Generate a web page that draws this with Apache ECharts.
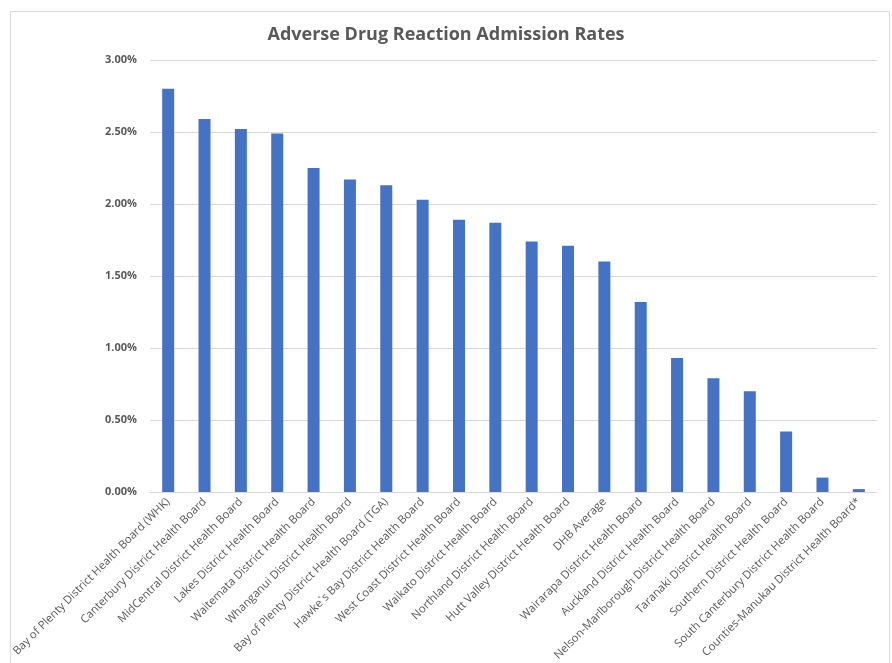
<!DOCTYPE html>
<html><head><meta charset="utf-8">
<script src="https://cdn.jsdelivr.net/npm/echarts@6/dist/echarts.min.js"></script>
<style>html,body{margin:0;padding:0;background:#fff}#c{width:892px;height:663px}</style>
</head><body><div id="c"></div>
<script>
const categories = [
  "Bay of Plenty District Health Board (WHK)",
  "Canterbury District Health Board",
  "MidCentral District Health Board",
  "Lakes District Health Board",
  "Waitemata District Health Board",
  "Whanganui District Health Board",
  "Bay of Plenty District Health Board (TGA)",
  "Hawke`s Bay District Health Board",
  "West Coast District Health Board",
  "Waikato District Health Board",
  "Northland District Health Board",
  "Hutt Valley District Health Board",
  "DHB Average",
  "Wairarapa District Health Board",
  "Auckland District Health Board",
  "Nelson-Marlborough District Health Board",
  "Taranaki District Health Board",
  "Southern District Health Board",
  "South Canterbury District Health Board",
  "Counties-Manukau District Health Board*"
];
const rates = [2.80, 2.59, 2.52, 2.49, 2.25, 2.17, 2.13, 2.03, 1.89, 1.87, 1.74, 1.71, 1.60, 1.32, 0.93, 0.79, 0.70, 0.42, 0.10, 0.02];
const yTicks = [0, 0.5, 1.0, 1.5, 2.0, 2.5, 3.0];

const chart = echarts.init(document.getElementById('c'));
chart.setOption({
  animation: false,
  title: {
    text: 'Adverse Drug Reaction Admission Rates',
    left: 'center', top: 21,
    textStyle: { fontFamily: 'Open Sans', fontSize: 18, fontWeight: 'bold', color: '#595959' }
  },
  graphic: [{
    type: 'rect', left: 8, top: 9, shape: { width: 879, height: 670 },
    style: { fill: 'none', stroke: '#d9d9d9', lineWidth: 1 }, silent: true
  }],
  grid: { left: 150, right: 15, top: 60, bottom: 171, containLabel: false, outerBoundsMode: 'none' },
  xAxis: {
    type: 'category', data: categories,
    axisLine: { lineStyle: { color: '#d9d9d9' } },
    axisTick: { show: false },
    axisLabel: { rotate: 45, interval: 0, margin: 8, fontFamily: 'Open Sans', fontSize: 11.3, color: '#595959' }
  },
  yAxis: {
    type: 'value', min: yTicks[0], max: yTicks[yTicks.length - 1], interval: 0.5,
    axisLine: { show: false }, axisTick: { show: false },
    splitLine: { lineStyle: { color: '#d9d9d9' } },
    axisLabel: { margin: 13, fontFamily: 'Open Sans', fontSize: 11, fontWeight: 'bold', color: '#595959',
      formatter: v => v.toFixed(2) + '%' }
  },
  series: [{
    type: 'bar', data: rates, barWidth: 12,
    itemStyle: { color: '#4472C4' }
  }]
});
</script></body></html>
